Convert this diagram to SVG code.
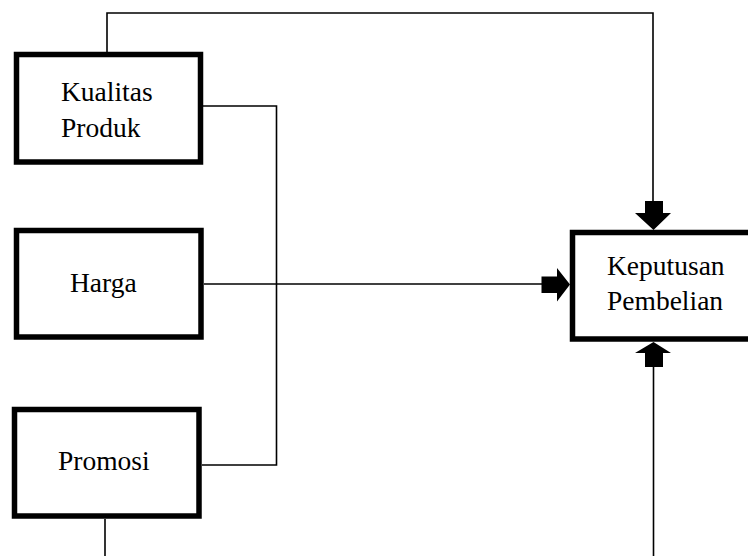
<svg xmlns="http://www.w3.org/2000/svg" width="748" height="556" viewBox="0 0 748 556">
<style>
.box{fill:#fff;stroke:#000;stroke-width:5.5}
.lbl{font-family:"Liberation Serif","Times New Roman",serif;font-size:27.5px;fill:#000}
.ln{fill:none;stroke:#000;stroke-width:1.6}
.ah{fill:#000}
</style>
<rect width="748" height="556" fill="#fff"/>
<g id="connectors">
<polyline class="ln" points="107,52 107,13 653,13 653,203"/>
<polyline class="ln" points="203,106 276.5,106 276.5,465 202,465"/>
<line class="ln" x1="204" y1="284" x2="543" y2="284"/>
<line class="ln" x1="105" y1="519" x2="105" y2="556"/>
<line class="ln" x1="653.5" y1="365" x2="653.5" y2="556"/>
<polygon class="ah" points="645,201 663,201 663,213 671,213 653.5,230 635,213 645,213"/>
<polygon class="ah" points="645,367 663,367 663,353 671,353 653.5,342 635,353 645,353"/>
<polygon class="ah" points="541.5,276.5 557,276.5 557,268 570,284.5 557,301.5 557,293 541.5,293"/>
</g>
<g id="kualitas-produk">
<rect class="box" x="16.5" y="54.5" width="184" height="107.5"/>
<text class="lbl" x="61" y="100.5">Kualitas</text>
<text class="lbl" x="61" y="136.5">Produk</text>
</g>
<g id="harga">
<rect class="box" x="16.5" y="230.5" width="184.5" height="106.5"/>
<text class="lbl" x="70" y="292">Harga</text>
</g>
<g id="promosi">
<rect class="box" x="14.5" y="409.5" width="184.5" height="106.5"/>
<text class="lbl" x="58" y="470">Promosi</text>
</g>
<g id="keputusan-pembelian">
<rect class="box" x="572.5" y="232.5" width="200" height="106.5"/>
<text class="lbl" x="607" y="275">Keputusan</text>
<text class="lbl" x="607" y="310">Pembelian</text>
</g>
</svg>
